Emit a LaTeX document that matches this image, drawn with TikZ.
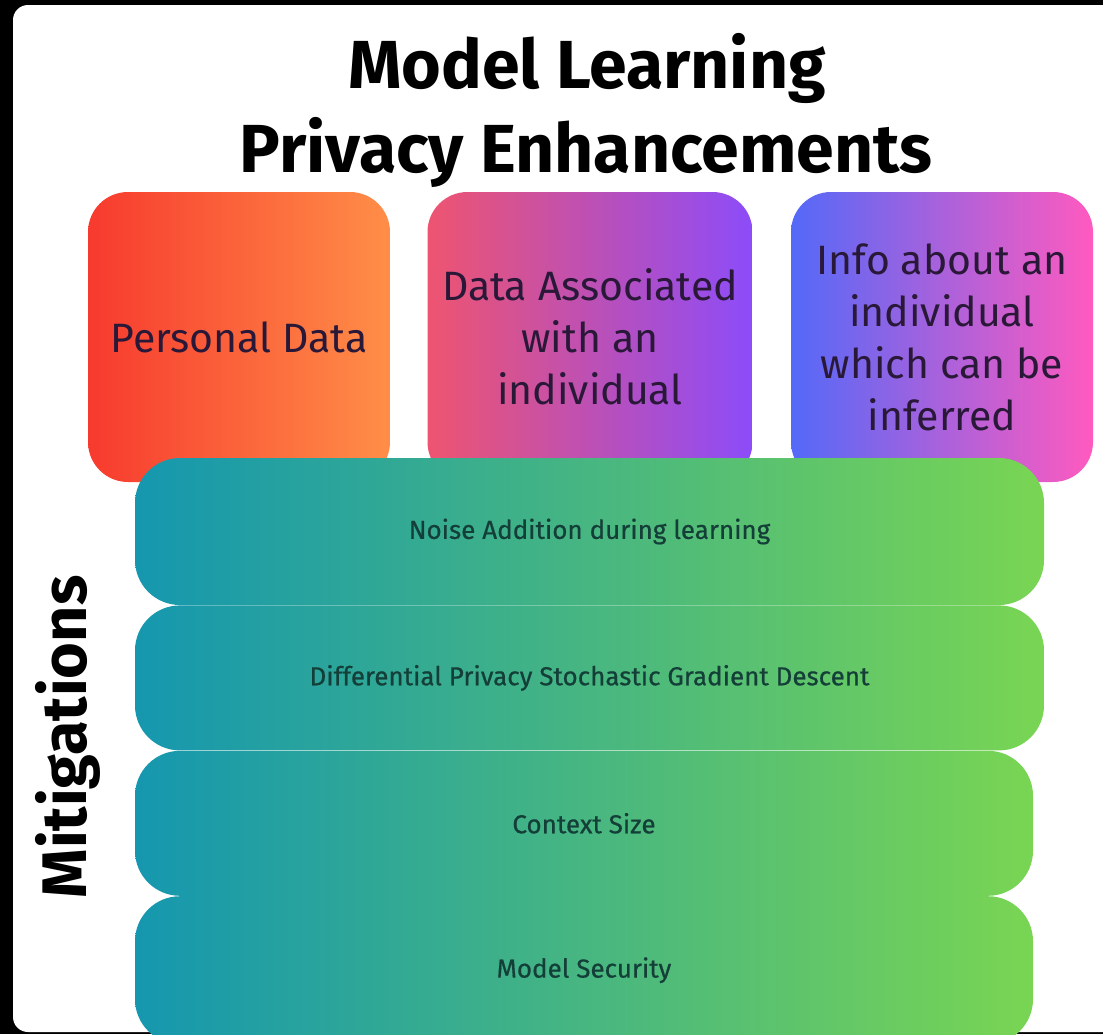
\documentclass[tikz,border=0pt]{standalone}
\usepackage{fontspec}
\setmainfont{Fira Sans}
\newfontfamily\rowfont{Fira Sans}[FakeBold=0.6]
\usetikzlibrary{positioning}

\definecolor{redL}{HTML}{F73A2E}
\definecolor{redR}{HTML}{FF8E48}
\definecolor{pinkL}{HTML}{EE5470}
\definecolor{pinkR}{HTML}{8C4CF9}
\definecolor{blueL}{HTML}{5469F8}
\definecolor{blueR}{HTML}{FF5ABF}
\definecolor{tealL}{HTML}{1597AF}
\definecolor{tealR}{HTML}{79D553}
\definecolor{cardink}{HTML}{2A1838}
\definecolor{rowink}{HTML}{143F38}

\begin{document}
\begin{tikzpicture}[x=1pt,y=-1pt,
    card/.style={rounded corners=40pt,minimum width=302pt,minimum height=290pt,
      inner sep=0pt,align=center,text=cardink,font=\fontsize{41}{52}\selectfont},
    mitrow/.style={rounded corners=45pt,inner sep=0pt,text=rowink,
      font=\rowfont\fontsize{26}{30}\selectfont,left color=tealL,right color=tealR},
    heading/.style={anchor=base,font=\fontsize{68}{80}\bfseries\selectfont}]

  \useasboundingbox (0,0) rectangle (1103,1034);
  \fill [black] (0,0) rectangle (1103,1034);
  \fill [white,rounded corners=15pt] (13,5) rectangle (1140,1032);

  % heading
  \node [heading] (titletop) at (587,88) {Model Learning};
  \node [heading] (titlebot) at (586,172) {Privacy Enhancements};

  % kinds of data
  \node [card,left color=redL,right color=redR] (personal) at (239,337) {Personal Data};
  \node [card,minimum width=325pt,left color=pinkL,right color=pinkR] (assoc) at (590,337) {Data Associated\\with an\\individual};
  \node [card,left color=blueL,right color=blueR] (inferred) at (942,337) {Info about an\\individual\\which can be\\inferred};

  % mitigations
  \node [mitrow,minimum width=909pt,minimum height=147pt] (noise) at (589.5,531.5) {Noise Addition during learning};
  \node [mitrow,minimum width=909pt,minimum height=145pt,anchor=north] (dpsgd) at (noise.south) {Differential Privacy Stochastic Gradient Descent};
  \node [mitrow,minimum width=898pt,minimum height=145pt,anchor=north west] (context) at (dpsgd.south west) {Context Size};
  \node [mitrow,minimum width=898pt,minimum height=148pt,anchor=north west] (security) at (context.south west) {Model Security};

  \node [rotate=90,font=\fontsize{63}{70}\bfseries\selectfont] (mitig) at (68,737) {Mitigations};

\end{tikzpicture}
\end{document}
